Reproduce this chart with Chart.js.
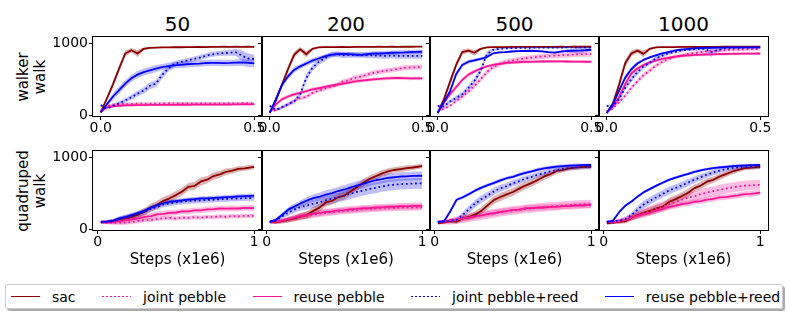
<!DOCTYPE html>
<html lang="en">
<head>
<meta charset="UTF-8">
<title>walker / quadruped</title>
<script src="https://cdn.jsdelivr.net/npm/chart.js"></script>
<style>
  body { margin: 0; background: #fff; font-family: 'DejaVu Sans', sans-serif; }
  #wrap { position: relative; width: 789px; height: 316px; overflow: hidden; }
  canvas { position: absolute; }
  .coltitle { position: absolute; top: 12px; font-size: 20px; line-height: 24px; transform: translateX(-50%); white-space: nowrap; }
  .rowlab { position: absolute; font-size: 15px; line-height: 17px; text-align: center; white-space: nowrap;
            transform: translate(-50%, -50%) rotate(-90deg); }
  #legend { position: absolute; left: 5px; top: 284px; width: 778px; height: 25px; border: 1px solid #ccc; border-radius: 3px;
            box-shadow: 2px 2px 0 #aaa; display: flex; align-items: center; padding-left: 5px; box-sizing: border-box; gap: 26.5px; font-size: 14px; }
  .item { display: flex; align-items: center; }
  .swatch { width: 29px; height: 1.8px; margin-right: 12px; }
</style>
</head>
<body>
<div id="wrap">
  <div class="coltitle" style="left:177.5px">50</div>
  <div class="coltitle" style="left:346px">200</div>
  <div class="coltitle" style="left:514.5px">500</div>
  <div class="coltitle" style="left:683.5px">1000</div>
  <div class="rowlab" style="left:32px; top:77px">walker<br>walk</div>
  <div class="rowlab" style="left:32px; top:191px">quadruped<br>walk</div>
  <div id="legend"></div>
</div>
<script>
// x positions of the samples (steps, x1e6)
const stepsTop = [0, 0.02, 0.04, 0.06, 0.08, 0.1, 0.12, 0.14, 0.16, 0.18, 0.2, 0.22, 0.24, 0.26, 0.28, 0.3, 0.32, 0.34, 0.36, 0.38, 0.4, 0.42, 0.44, 0.46, 0.48, 0.5];
const stepsBottom = [0.02, 0.06, 0.1, 0.14, 0.18, 0.22, 0.26, 0.3, 0.34, 0.38, 0.42, 0.46, 0.5, 0.54, 0.58, 0.62, 0.66, 0.7, 0.74, 0.78, 0.82, 0.86, 0.9, 0.94, 1.0];

const columnTitles = ['50', '200', '500', '1000'];
const seriesNames = ['sac', 'joint pebble', 'reuse pebble', 'joint pebble+reed', 'reuse pebble+reed'];
const xTicksTop = [0, 0.5];
const xTickLabelsTop = ['0.0', '0.5'];
const xTicksBottom = [0, 1];
const xTickLabelsBottom = ['0', '1'];
const yTicks = [0, 1000];
const yTickLabels = ['0', '1000'];
const xTitle = 'Steps (x1e6)';

// walker walk, 50
const w50_sac = [40, 230, 430, 650, 860, 905, 860, 925, 938, 942, 946, 944, 948, 947, 950, 949, 951, 950, 953, 951, 954, 952, 954, 953, 955, 952];
const w50_sac_sd = [10, 30, 40, 50, 40, 30, 50, 20, 12, 10, 8, 8, 8, 8, 8, 8, 8, 8, 8, 8, 8, 8, 8, 8, 8, 8];
const w50_jp = [60, 125, 145, 152, 156, 158, 160, 160, 161, 162, 162, 163, 162, 163, 164, 163, 164, 165, 164, 165, 165, 166, 165, 166, 166, 165];
const w50_jp_sd = [10, 18, 20, 20, 20, 20, 20, 20, 20, 20, 20, 20, 20, 20, 20, 20, 20, 20, 20, 20, 20, 20, 20, 20, 20, 20];
const w50_rp = [40, 108, 124, 131, 135, 138, 140, 141, 142, 143, 143, 144, 144, 145, 145, 146, 146, 147, 147, 148, 148, 148, 149, 149, 150, 150];
const w50_rp_sd = [8, 12, 12, 12, 12, 12, 12, 12, 12, 12, 12, 12, 12, 12, 12, 12, 12, 12, 12, 12, 12, 12, 12, 12, 12, 12];
const w50_jr = [140, 90, 130, 165, 205, 250, 300, 345, 410, 440, 560, 650, 715, 740, 760, 780, 800, 825, 845, 858, 865, 870, 875, 830, 790, 785];
const w50_jr_sd = [20, 20, 25, 30, 30, 35, 40, 45, 50, 50, 50, 45, 40, 35, 35, 35, 35, 35, 35, 35, 35, 40, 50, 70, 70, 60];
const w50_rr = [40, 150, 260, 350, 440, 515, 565, 600, 625, 650, 670, 685, 695, 702, 710, 715, 720, 727, 730, 730, 726, 728, 732, 735, 728, 722];
const w50_rr_sd = [10, 30, 45, 50, 50, 50, 50, 50, 50, 48, 45, 45, 45, 45, 45, 45, 45, 45, 45, 45, 45, 45, 45, 50, 55, 55];

// walker walk, 200
const w200_sac = [30, 200, 420, 640, 840, 920, 850, 925, 945, 948, 950, 949, 951, 950, 952, 951, 953, 952, 954, 953, 954, 953, 955, 954, 955, 955];
const w200_sac_sd = [10, 30, 40, 50, 45, 30, 45, 20, 10, 8, 8, 8, 8, 8, 8, 8, 8, 8, 8, 8, 8, 8, 8, 8, 8, 8];
const w200_jp = [50, 70, 105, 150, 200, 235, 255, 310, 340, 370, 395, 420, 470, 490, 520, 540, 565, 590, 605, 620, 630, 645, 660, 665, 668, 670];
const w200_jp_sd = [10, 15, 20, 20, 20, 25, 25, 25, 25, 30, 30, 30, 30, 30, 35, 35, 35, 35, 35, 35, 35, 35, 35, 35, 35, 35];
const w200_rp = [30, 150, 220, 260, 290, 310, 335, 360, 375, 395, 410, 425, 440, 455, 470, 480, 490, 500, 505, 512, 516, 518, 515, 512, 514, 512];
const w200_rp_sd = [10, 20, 25, 25, 25, 25, 25, 25, 25, 25, 25, 25, 25, 25, 25, 25, 25, 25, 25, 25, 25, 25, 25, 25, 25, 25];
const w200_jr = [130, 70, 110, 150, 190, 290, 520, 660, 740, 790, 840, 850, 835, 840, 842, 840, 835, 832, 830, 828, 830, 828, 828, 826, 828, 828];
const w200_jr_sd = [20, 20, 20, 25, 30, 40, 50, 45, 40, 40, 40, 40, 40, 40, 40, 40, 40, 40, 40, 40, 40, 40, 40, 40, 40, 40];
const w200_rr = [30, 220, 420, 540, 630, 680, 720, 760, 790, 820, 840, 850, 855, 850, 845, 840, 850, 860, 860, 865, 870, 872, 875, 880, 882, 884];
const w200_rr_sd = [10, 30, 40, 40, 40, 35, 35, 35, 30, 30, 30, 30, 30, 30, 30, 30, 30, 30, 30, 30, 30, 30, 30, 30, 30, 30];

// walker walk, 500
const w500_sac = [30, 220, 460, 700, 880, 900, 870, 925, 945, 948, 950, 950, 952, 951, 952, 952, 953, 952, 953, 953, 954, 953, 954, 954, 955, 954];
const w500_sac_sd = [10, 30, 45, 45, 35, 30, 40, 20, 10, 8, 8, 8, 8, 8, 8, 8, 8, 8, 8, 8, 8, 8, 8, 8, 8, 8];
const w500_jp = [50, 90, 130, 200, 260, 330, 410, 500, 600, 670, 710, 740, 760, 775, 790, 800, 810, 818, 825, 830, 835, 840, 845, 848, 850, 852];
const w500_jp_sd = [10, 15, 20, 25, 30, 30, 35, 35, 35, 35, 35, 35, 35, 35, 35, 35, 35, 35, 35, 35, 35, 35, 35, 35, 35, 35];
const w500_rp = [30, 170, 290, 390, 490, 565, 610, 650, 680, 700, 715, 725, 733, 738, 742, 744, 746, 748, 749, 749, 750, 748, 747, 746, 745, 744];
const w500_rp_sd = [10, 20, 25, 25, 25, 25, 25, 20, 20, 20, 20, 20, 20, 20, 20, 20, 20, 20, 20, 20, 20, 20, 20, 20, 20, 20];
const w500_jr = [130, 120, 190, 240, 290, 380, 480, 620, 850, 910, 925, 930, 935, 938, 940, 940, 941, 942, 942, 943, 943, 944, 944, 944, 945, 945];
const w500_jr_sd = [20, 20, 25, 30, 35, 40, 45, 45, 40, 20, 15, 12, 12, 12, 12, 12, 12, 12, 12, 12, 12, 12, 12, 12, 12, 12];
const w500_rr = [30, 180, 330, 570, 700, 745, 765, 785, 810, 860, 875, 880, 888, 892, 895, 898, 895, 890, 880, 872, 885, 895, 898, 900, 905, 912];
const w500_rr_sd = [10, 25, 35, 40, 30, 25, 25, 20, 20, 15, 15, 15, 15, 15, 15, 15, 15, 15, 15, 15, 15, 20, 30, 50, 30, 20];

// walker walk, 1000
const w1000_sac = [30, 160, 420, 720, 860, 900, 855, 925, 945, 948, 950, 950, 952, 951, 952, 952, 953, 953, 953, 954, 954, 954, 955, 954, 955, 955];
const w1000_sac_sd = [10, 30, 50, 50, 40, 30, 45, 20, 10, 8, 8, 8, 8, 8, 8, 8, 8, 8, 8, 8, 8, 8, 8, 8, 8, 8];
const w1000_jp = [50, 90, 180, 270, 380, 470, 560, 620, 690, 740, 780, 810, 830, 850, 865, 875, 885, 893, 900, 905, 910, 913, 916, 918, 920, 922];
const w1000_jp_sd = [10, 15, 20, 25, 30, 30, 30, 30, 30, 25, 25, 20, 20, 20, 20, 20, 20, 20, 20, 20, 20, 20, 20, 20, 20, 20];
const w1000_rp = [30, 120, 250, 430, 580, 650, 700, 735, 760, 785, 800, 815, 825, 832, 838, 842, 846, 849, 851, 853, 855, 856, 857, 858, 859, 860];
const w1000_rp_sd = [10, 20, 30, 30, 30, 25, 25, 25, 20, 20, 20, 20, 20, 20, 20, 20, 20, 20, 20, 20, 20, 20, 20, 20, 20, 20];
const w1000_jr = [130, 120, 220, 380, 500, 600, 680, 730, 790, 830, 860, 880, 900, 910, 918, 922, 925, 880, 905, 930, 935, 938, 940, 942, 943, 944];
const w1000_jr_sd = [20, 20, 30, 35, 40, 40, 35, 30, 30, 25, 20, 20, 20, 20, 20, 20, 20, 70, 30, 15, 15, 15, 15, 15, 15, 15];
const w1000_rr = [30, 150, 340, 520, 640, 720, 770, 805, 835, 860, 880, 900, 915, 922, 930, 935, 938, 940, 942, 943, 944, 944, 945, 945, 945, 945];
const w1000_rr_sd = [10, 25, 35, 35, 30, 25, 20, 20, 15, 15, 15, 15, 15, 15, 15, 15, 15, 15, 15, 15, 15, 15, 15, 15, 15, 15];

// quadruped walk, 50
const q50_sac = [95, 100, 112, 140, 150, 170, 205, 245, 300, 340, 395, 430, 475, 525, 590, 605, 665, 690, 740, 765, 800, 815, 840, 848, 870];
const q50_sac_sd = [20, 20, 25, 30, 35, 40, 45, 50, 55, 55, 55, 55, 55, 55, 55, 55, 55, 50, 50, 50, 45, 40, 40, 35, 35];
const q50_jp = [100, 92, 85, 88, 92, 100, 112, 125, 128, 142, 150, 158, 148, 162, 158, 168, 160, 172, 168, 178, 172, 182, 178, 186, 185];
const q50_jp_sd = [20, 25, 25, 30, 30, 30, 30, 30, 30, 30, 30, 30, 30, 30, 30, 30, 30, 30, 30, 30, 30, 30, 30, 30, 30];
const q50_rp = [100, 95, 102, 112, 122, 138, 150, 172, 182, 205, 212, 228, 232, 248, 248, 262, 262, 275, 278, 288, 285, 290, 288, 296, 292];
const q50_rp_sd = [20, 25, 30, 35, 40, 40, 40, 40, 40, 40, 40, 40, 40, 40, 40, 40, 40, 40, 40, 40, 40, 40, 40, 40, 40];
const q50_jr = [100, 102, 110, 140, 160, 180, 205, 240, 285, 310, 345, 360, 375, 385, 392, 398, 400, 408, 410, 418, 420, 425, 428, 432, 435];
const q50_jr_sd = [20, 25, 30, 35, 40, 40, 40, 40, 40, 40, 40, 40, 40, 40, 40, 40, 40, 40, 40, 40, 40, 40, 40, 40, 40];
const q50_rr = [100, 106, 120, 150, 172, 198, 228, 258, 300, 335, 362, 382, 392, 400, 412, 418, 428, 428, 435, 440, 446, 450, 456, 460, 468];
const q50_rr_sd = [20, 20, 25, 30, 30, 30, 30, 30, 30, 30, 30, 30, 30, 30, 30, 30, 30, 30, 30, 30, 30, 30, 30, 30, 30];

// quadruped walk, 200
const q200_sac = [100, 95, 112, 128, 150, 178, 200, 255, 300, 372, 395, 445, 468, 525, 588, 645, 698, 738, 775, 805, 825, 838, 852, 860, 880];
const q200_sac_sd = [20, 25, 30, 35, 40, 45, 50, 55, 55, 55, 55, 55, 55, 55, 50, 50, 50, 45, 45, 45, 40, 40, 40, 35, 35];
const q200_jp = [100, 100, 110, 130, 150, 170, 185, 200, 215, 225, 235, 245, 255, 260, 268, 275, 280, 285, 290, 292, 296, 300, 300, 302, 305];
const q200_jp_sd = [20, 25, 30, 35, 40, 45, 45, 45, 45, 45, 45, 45, 45, 45, 45, 45, 45, 45, 45, 45, 45, 45, 45, 45, 45];
const q200_rp = [100, 105, 118, 140, 162, 188, 198, 218, 228, 242, 248, 262, 266, 278, 282, 292, 294, 302, 304, 312, 312, 320, 318, 324, 325];
const q200_rp_sd = [20, 25, 30, 35, 40, 45, 45, 45, 45, 45, 45, 45, 45, 45, 45, 45, 45, 45, 45, 45, 45, 45, 45, 45, 45];
const q200_jr = [100, 120, 180, 230, 275, 310, 330, 355, 375, 400, 425, 445, 470, 495, 520, 540, 560, 575, 595, 610, 620, 628, 632, 636, 640];
const q200_jr_sd = [20, 25, 35, 40, 45, 50, 55, 60, 65, 70, 70, 70, 75, 75, 75, 75, 75, 75, 75, 75, 75, 75, 75, 75, 75];
const q200_rr = [100, 130, 200, 275, 318, 362, 400, 432, 452, 482, 503, 532, 553, 582, 608, 632, 658, 682, 698, 716, 724, 734, 737, 743, 745];
const q200_rr_sd = [20, 25, 30, 35, 40, 45, 50, 55, 55, 60, 60, 60, 60, 60, 60, 60, 60, 60, 60, 60, 60, 60, 60, 60, 60];

// quadruped walk, 500
const q500_sac = [80, 95, 112, 105, 152, 168, 205, 258, 335, 408, 448, 485, 518, 565, 608, 645, 688, 735, 768, 812, 828, 848, 858, 866, 870];
const q500_sac_sd = [20, 20, 25, 30, 35, 40, 45, 50, 55, 55, 55, 55, 55, 55, 55, 50, 50, 45, 40, 40, 35, 30, 30, 30, 25];
const q500_jp = [100, 95, 105, 125, 145, 160, 175, 190, 205, 220, 235, 250, 260, 270, 280, 290, 300, 305, 315, 320, 330, 335, 340, 345, 350];
const q500_jp_sd = [20, 30, 40, 50, 60, 60, 60, 60, 60, 60, 60, 60, 60, 60, 60, 60, 60, 60, 60, 60, 60, 60, 60, 60, 60];
const q500_rp = [100, 100, 122, 128, 152, 162, 182, 192, 212, 222, 242, 252, 268, 272, 292, 292, 302, 302, 312, 310, 320, 320, 330, 330, 338];
const q500_rp_sd = [20, 25, 30, 35, 40, 40, 40, 40, 40, 40, 40, 40, 40, 40, 40, 40, 40, 40, 40, 40, 40, 40, 40, 40, 40];
const q500_jr = [100, 105, 115, 130, 200, 280, 360, 420, 470, 530, 570, 600, 640, 670, 705, 730, 760, 780, 805, 825, 840, 852, 860, 866, 870];
const q500_jr_sd = [20, 20, 25, 30, 40, 50, 55, 55, 50, 50, 50, 45, 45, 45, 40, 40, 40, 40, 35, 35, 35, 35, 35, 35, 35];
const q500_rr = [100, 110, 250, 410, 445, 490, 540, 580, 615, 645, 680, 710, 730, 760, 785, 805, 830, 848, 860, 872, 880, 886, 890, 892, 895];
const q500_rr_sd = [15, 20, 25, 25, 25, 25, 25, 25, 25, 25, 25, 25, 25, 25, 25, 25, 25, 25, 25, 25, 25, 25, 25, 25, 25];

// quadruped walk, 1000
const q1000_sac = [80, 90, 100, 112, 160, 198, 232, 258, 292, 318, 382, 418, 462, 508, 572, 608, 662, 688, 732, 768, 802, 828, 852, 858, 870];
const q1000_sac_sd = [20, 20, 25, 30, 35, 40, 45, 50, 50, 55, 55, 55, 55, 55, 50, 50, 50, 45, 45, 40, 40, 35, 35, 30, 30];
const q1000_jp = [100, 95, 110, 135, 170, 200, 230, 260, 290, 320, 350, 380, 410, 440, 460, 490, 510, 530, 550, 565, 580, 595, 605, 612, 618];
const q1000_jp_sd = [20, 25, 30, 40, 50, 55, 60, 65, 70, 70, 70, 70, 70, 70, 70, 70, 70, 70, 70, 70, 70, 70, 70, 70, 70];
const q1000_rp = [100, 95, 112, 128, 162, 188, 212, 232, 262, 282, 312, 328, 348, 358, 382, 392, 412, 422, 442, 448, 462, 472, 488, 492, 510];
const q1000_rp_sd = [20, 25, 30, 35, 40, 40, 40, 40, 40, 40, 40, 40, 40, 40, 40, 40, 40, 40, 40, 40, 40, 40, 40, 40, 40];
const q1000_jr = [100, 105, 120, 140, 200, 280, 350, 400, 450, 495, 540, 575, 610, 650, 690, 725, 760, 790, 815, 840, 852, 860, 865, 868, 870];
const q1000_jr_sd = [20, 20, 25, 30, 40, 50, 55, 55, 55, 55, 55, 50, 50, 50, 45, 45, 40, 40, 35, 35, 35, 30, 30, 30, 30];
const q1000_rr = [100, 120, 240, 330, 390, 460, 520, 565, 610, 650, 690, 720, 745, 770, 800, 820, 838, 850, 862, 870, 878, 884, 888, 892, 895];
const q1000_rr_sd = [15, 20, 20, 20, 20, 20, 20, 20, 20, 20, 20, 20, 20, 20, 20, 20, 20, 20, 20, 20, 20, 20, 20, 20, 20];

// line styles, in legend order
const styles = [
  { color: '#8b0000', band: 'rgba(139,0,0,0.3)', dash: [] },
  { color: '#ff1493', band: 'rgba(255,20,147,0.28)', dash: [1.8, 2.8] },
  { color: '#ff1493', band: 'rgba(255,20,147,0.28)', dash: [] },
  { color: '#0000ff', band: 'rgba(0,0,255,0.25)', dash: [1.8, 2.8] },
  { color: '#0000ff', band: 'rgba(0,0,255,0.25)', dash: [] }
];

const rows = [
  [
    [[w50_sac, w50_sac_sd], [w50_jp, w50_jp_sd], [w50_rp, w50_rp_sd], [w50_jr, w50_jr_sd], [w50_rr, w50_rr_sd]],
    [[w200_sac, w200_sac_sd], [w200_jp, w200_jp_sd], [w200_rp, w200_rp_sd], [w200_jr, w200_jr_sd], [w200_rr, w200_rr_sd]],
    [[w500_sac, w500_sac_sd], [w500_jp, w500_jp_sd], [w500_rp, w500_rp_sd], [w500_jr, w500_jr_sd], [w500_rr, w500_rr_sd]],
    [[w1000_sac, w1000_sac_sd], [w1000_jp, w1000_jp_sd], [w1000_rp, w1000_rp_sd], [w1000_jr, w1000_jr_sd], [w1000_rr, w1000_rr_sd]]
  ],
  [
    [[q50_sac, q50_sac_sd], [q50_jp, q50_jp_sd], [q50_rp, q50_rp_sd], [q50_jr, q50_jr_sd], [q50_rr, q50_rr_sd]],
    [[q200_sac, q200_sac_sd], [q200_jp, q200_jp_sd], [q200_rp, q200_rp_sd], [q200_jr, q200_jr_sd], [q200_rr, q200_rr_sd]],
    [[q500_sac, q500_sac_sd], [q500_jp, q500_jp_sd], [q500_rp, q500_rp_sd], [q500_jr, q500_jr_sd], [q500_rr, q500_rr_sd]],
    [[q1000_sac, q1000_sac_sd], [q1000_jp, q1000_jp_sd], [q1000_rp, q1000_rp_sd], [q1000_jr, q1000_jr_sd], [q1000_rr, q1000_rr_sd]]
  ]
];

// layout of the axes boxes
const boxLeft = [93, 262, 430, 599];
const boxWidth = [169, 168, 169, 169];
const boxTop = [37, 151];
const boxHeight = 79;
const padLeft = 48, padRight = 14, padTop = 10;
const bottomSpace = [26, 39];

Chart.defaults.font.family = "'DejaVu Sans', sans-serif";
Chart.defaults.color = '#000';

const frame = {
  id: 'frame',
  afterDatasetsDraw(chart) {
    const a = chart.chartArea;
    const ctx = chart.ctx;
    ctx.save();
    ctx.strokeStyle = '#000';
    ctx.lineWidth = 1;
    ctx.strokeRect(Math.round(a.left) - 0.5, Math.round(a.top) - 0.5, Math.round(a.right - a.left) + 1, Math.round(a.bottom - a.top) + 1);
    ctx.restore();
  }
};

function pts(steps, vals) {
  return steps.map((x, i) => ({ x: x, y: vals[i] }));
}

const wrap = document.getElementById('wrap');

rows.forEach((row, r) => {
  const steps = r === 0 ? stepsTop : stepsBottom;
  const xt = r === 0 ? xTicksTop : xTicksBottom;
  const xl = r === 0 ? xTickLabelsTop : xTickLabelsBottom;
  row.forEach((series, c) => {
    const cv = document.createElement('canvas');
    const w = boxWidth[c] + padLeft + padRight;
    const h = padTop + boxHeight + bottomSpace[r];
    cv.width = w; cv.height = h;
    cv.style.width = w + 'px'; cv.style.height = h + 'px';
    cv.style.left = (boxLeft[c] - padLeft) + 'px';
    cv.style.top = (boxTop[r] - padTop) + 'px';
    wrap.appendChild(cv);

    const datasets = [];
    series.forEach((s, k) => {
      const mean = s[0], sd = s[1];
      datasets.push({ data: pts(steps, mean.map((v, i) => v - sd[i])), borderWidth: 0, pointRadius: 0, fill: false, order: 20 });
      datasets.push({ data: pts(steps, mean.map((v, i) => v + sd[i])), borderWidth: 0, pointRadius: 0, fill: '-1',
                      backgroundColor: styles[k].band, order: 20 });
    });
    series.forEach((s, k) => {
      datasets.push({ label: seriesNames[k], data: pts(steps, s[0]), borderColor: styles[k].color, borderWidth: 1.8,
                      borderDash: styles[k].dash, borderJoinStyle: 'round', pointRadius: 0, fill: false, tension: 0, order: 10 - k });
    });

    new Chart(cv, {
      type: 'line',
      data: { datasets: datasets },
      options: {
        responsive: false,
        animation: false,
        events: [],
        layout: { padding: { left: 0, right: padRight, top: padTop, bottom: 0 } },
        plugins: { legend: { display: false }, tooltip: { enabled: false } },
        scales: {
          x: {
            type: 'linear',
            min: r === 0 ? -0.025 : -0.03,
            max: r === 0 ? 0.525 : 1.05,
            afterBuildTicks: s => { s.ticks = xt.map(v => ({ value: v })); },
            afterFit: s => { s.height = bottomSpace[r]; s.paddingLeft = 0; s.paddingRight = 0; },
            ticks: { maxRotation: 0, autoSkip: false, padding: 0, font: { size: 14 }, callback: (v, i) => xl[i] },
            grid: { drawOnChartArea: false, tickLength: 4, color: '#000' },
            border: { display: false },
            title: { display: r === 1, text: xTitle, font: { size: 15 }, padding: { top: 0, bottom: 0 } }
          },
          y: {
            min: -12,
            max: 1090,
            afterBuildTicks: s => { s.ticks = yTicks.map(v => ({ value: v })); },
            afterFit: s => { s.width = padLeft; s.paddingTop = 0; s.paddingBottom = 0; },
            ticks: { display: c === 0, padding: 1, font: { size: 14 }, callback: (v, i) => yTickLabels[i] },
            grid: { drawOnChartArea: false, tickLength: 4, color: '#000' },
            border: { display: false }
          }
        }
      },
      plugins: [frame]
    });
  });
});

// legend
const legend = document.getElementById('legend');
seriesNames.forEach((name, k) => {
  const item = document.createElement('div');
  item.className = 'item';
  const sw = document.createElement('div');
  sw.className = 'swatch';
  if (styles[k].dash.length) {
    sw.style.background = 'repeating-linear-gradient(to right, ' + styles[k].color + ' 0 1.8px, transparent 1.8px 4px)';
  } else {
    sw.style.background = styles[k].color;
  }
  const tx = document.createElement('span');
  tx.textContent = name;
  item.appendChild(sw);
  item.appendChild(tx);
  legend.appendChild(item);
});
</script>
</body>
</html>
